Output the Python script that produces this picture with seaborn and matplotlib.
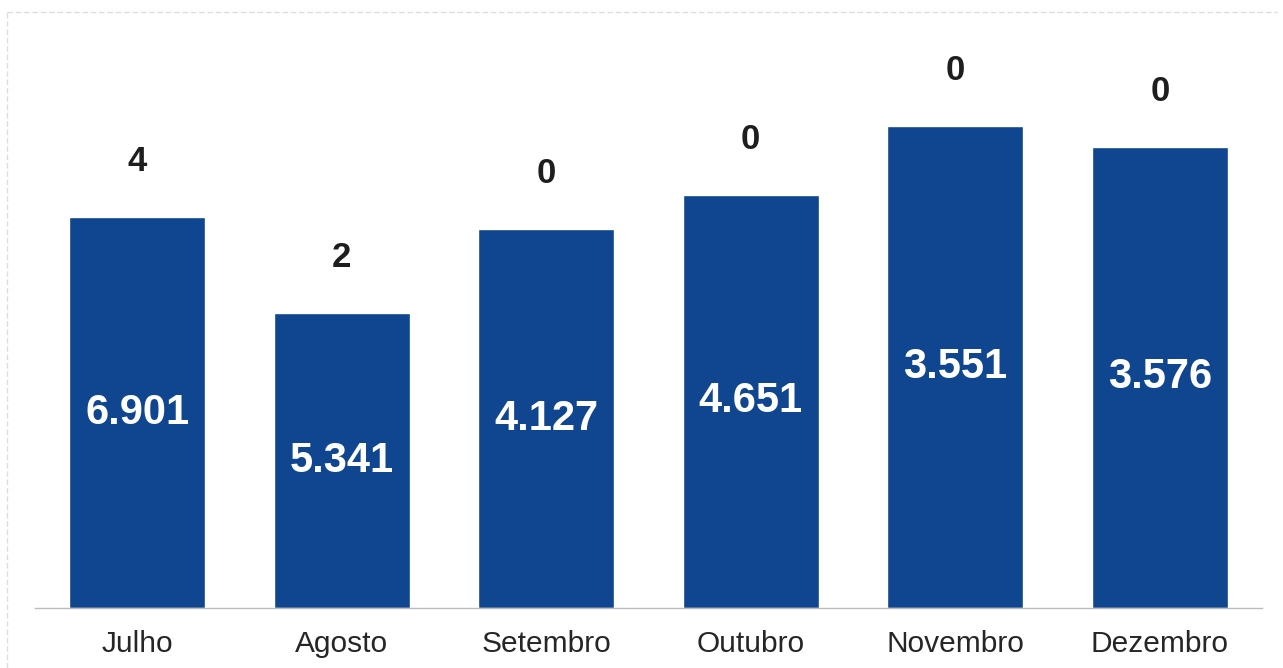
import numpy as np
import pandas as pd
import seaborn as sns
import matplotlib.pyplot as plt
from matplotlib.lines import Line2D

# Data
months = ['Julho', 'Agosto', 'Setembro', 'Outubro', 'Novembro', 'Dezembro']
bar_heights = [391, 295, 379, 413, 482, 461]      # bar size as drawn (scan units)
inside_labels = ['6.901', '5.341', '4.127', '4.651', '3.551', '3.576']
top_labels = ['4', '2', '0', '0', '0', '0']

df = pd.DataFrame({'mes': months, 'altura': bar_heights})

sns.set_style('white')
plt.rcParams['font.family'] = ['Liberation Sans', 'DejaVu Sans']

fig = plt.figure(figsize=(12.83, 6.68), dpi=100)
ax = fig.add_axes([35 / 1283, 60 / 668, 1227 / 1283, 596 / 668])

bar_color = '#10468F'
sns.barplot(data=df, x='mes', y='altura', color=bar_color, saturation=1,
            width=0.665, ax=ax)

ax.set_xlim(-0.5, 5.5)
ax.set_ylim(0, 596)

for i, (h, lab_in, lab_top) in enumerate(zip(bar_heights, inside_labels, top_labels)):
    ax.text(i, h / 2, lab_in, ha='center', va='center', color='white',
            fontsize=30, fontweight='bold')
    ax.annotate(lab_top, (i, h), xytext=(0, 40), textcoords='offset points',
                ha='center', va='center', color='#1e1e1e',
                fontsize=25, fontweight='bold')

for s in ['top', 'right', 'left']:
    ax.spines[s].set_visible(False)
ax.spines['bottom'].set_color('#bbbbbb')
ax.spines['bottom'].set_linewidth(1)
ax.set_yticks([])
ax.set_xlabel('')
ax.set_ylabel('')
ax.tick_params(axis='x', length=0, pad=16, labelsize=21.5, labelcolor='#262626')

# faint frame of the scanned page (top and left edges)
fig.add_artist(Line2D([7 / 1283, 1277 / 1283], [1 - 12 / 668, 1 - 12 / 668],
                      color='#dddddd', lw=1, ls=(0, (4, 2))))
fig.add_artist(Line2D([7 / 1283, 7 / 1283], [0, 1 - 12 / 668],
                      color='#dddddd', lw=1, ls=(0, (4, 2))))

fig.savefig('out.png', dpi=100, facecolor='white')
